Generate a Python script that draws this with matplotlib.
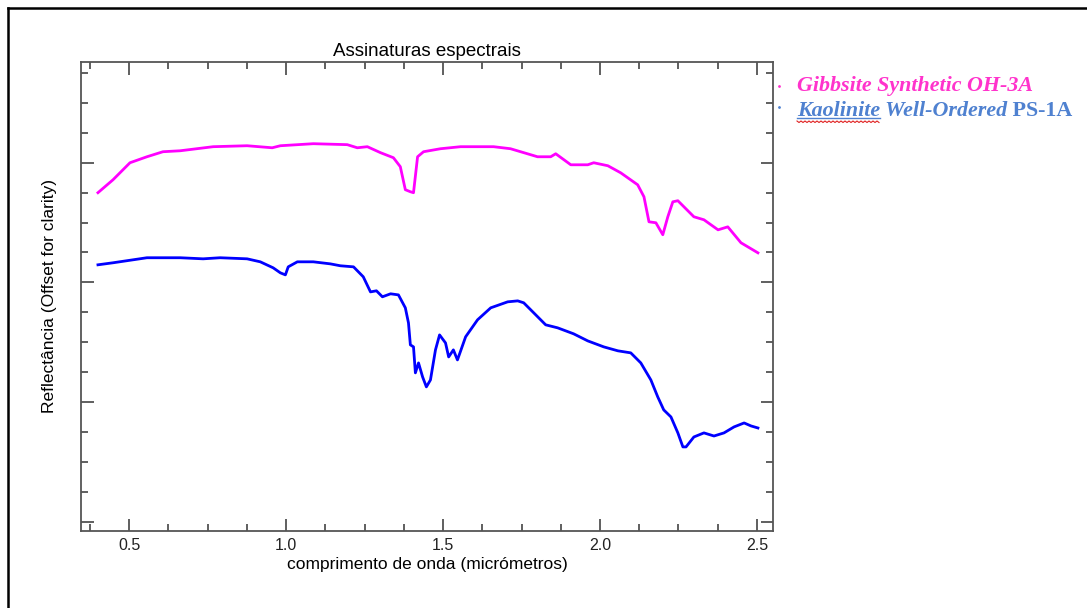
import numpy as np
import matplotlib
matplotlib.use('Agg')
from matplotlib import pyplot as plt
from matplotlib.lines import Line2D

# Gibbsite (magenta) - wavelength (um) / offset reflectance
gib_wl = [0.401, 0.449, 0.503, 0.557, 0.608, 0.663, 0.768, 0.876, 0.956, 0.982,
          1.087, 1.195, 1.227, 1.259, 1.301, 1.342, 1.364, 1.380, 1.396, 1.406,
          1.419, 1.438, 1.492, 1.556, 1.661, 1.715, 1.801, 1.843, 1.859, 1.907,
          1.961, 1.980, 2.025, 2.066, 2.120, 2.140, 2.156, 2.178, 2.200, 2.216,
          2.232, 2.248, 2.299, 2.331, 2.376, 2.407, 2.449, 2.503]
gib_refl = [2.749, 2.857, 2.999, 3.049, 3.091, 3.099, 3.133, 3.141, 3.124, 3.141,
            3.158, 3.150, 3.124, 3.133, 3.083, 3.041, 2.966, 2.774, 2.757, 2.749,
            3.049, 3.091, 3.116, 3.133, 3.133, 3.116, 3.049, 3.049, 3.074, 2.982,
            2.982, 2.999, 2.974, 2.915, 2.815, 2.715, 2.506, 2.498, 2.398, 2.548,
            2.673, 2.682, 2.548, 2.523, 2.439, 2.464, 2.331, 2.247]

# Kaolinite (blue)
kao_wl = [0.401, 0.449, 0.557, 0.663, 0.736, 0.790, 0.876, 0.918, 0.959, 0.982,
          0.998, 1.007, 1.036, 1.087, 1.141, 1.173, 1.215, 1.246, 1.269, 1.288,
          1.307, 1.333, 1.358, 1.380, 1.390, 1.396, 1.406, 1.412, 1.422, 1.435,
          1.447, 1.460, 1.476, 1.489, 1.508, 1.518, 1.533, 1.546, 1.572, 1.610,
          1.652, 1.706, 1.738, 1.757, 1.789, 1.827, 1.865, 1.916, 1.961, 2.012,
          2.057, 2.098, 2.130, 2.162, 2.184, 2.203, 2.226, 2.248, 2.264, 2.274,
          2.299, 2.331, 2.363, 2.395, 2.427, 2.459, 2.481, 2.503]
kao_refl = [2.147, 2.164, 2.206, 2.206, 2.197, 2.206, 2.197, 2.172, 2.122, 2.080,
            2.063, 2.130, 2.172, 2.172, 2.155, 2.139, 2.130, 2.047, 1.921, 1.930,
            1.880, 1.905, 1.896, 1.788, 1.662, 1.479, 1.462, 1.245, 1.328, 1.211,
            1.128, 1.186, 1.437, 1.562, 1.495, 1.378, 1.437, 1.353, 1.546, 1.688,
            1.788, 1.838, 1.846, 1.830, 1.746, 1.646, 1.621, 1.571, 1.512, 1.462,
            1.429, 1.412, 1.328, 1.186, 1.044, 0.936, 0.877, 0.744, 0.627, 0.627,
            0.710, 0.744, 0.718, 0.744, 0.794, 0.827, 0.802, 0.785]

x_ticks = [0.5, 1.0, 1.5, 2.0, 2.5]
x_ticklabels = ['0.5', '1.0', '1.5', '2.0', '2.5']

plt.rcParams['font.family'] = ['Liberation Sans', 'DejaVu Sans']

fig = plt.figure(figsize=(10.87, 6.08), dpi=100)
ax = fig.add_axes([81/1087, 1 - 531/608, 692/1087, 469/608])

ax.plot(gib_wl, gib_refl, color='#ff00ff', lw=2.0)
ax.plot(kao_wl, kao_refl, color='#0000ff', lw=2.0)

ax.set_xlim(0.347, 2.551)
ax.set_ylim(-0.075, 3.84)
ax.set_xticks(x_ticks)
ax.set_xticklabels(x_ticklabels)
ax.set_xticks(np.arange(0.375, 2.55, 0.125), minor=True)
ax.set_yticks([0, 1, 2, 3])
ax.set_yticks(np.arange(0, 3.84, 0.25), minor=True)
ax.set_yticklabels([])

ax.tick_params(which='both', direction='in', top=True, right=True,
               color='#444444', width=1.2, labelsize=11.5, pad=5,
               labelcolor='#222222')
ax.tick_params(which='major', length=9)
ax.tick_params(which='minor', length=5)
for s in ax.spines.values():
    s.set_color('#555555')
    s.set_linewidth(1.3)

ax.set_title('Assinaturas espectrais', fontsize=13.5, pad=4)
ax.set_xlabel('comprimento de onda (micrómetros)', fontsize=12.5, labelpad=3)
ax.set_ylabel('Reflectância (Offset for clarity)', fontsize=12.5, labelpad=12)

# outer frame (top and left edges)
fig.add_artist(Line2D([8/1087, 1.0], [1 - 8/608, 1 - 8/608], transform=fig.transFigure,
                      color='black', lw=1.8))
fig.add_artist(Line2D([8/1087, 8/1087], [0, 1 - 8/608], transform=fig.transFigure,
                      color='black', lw=1.8))

# legend text to the right of the plot
serif = ['Liberation Serif', 'DejaVu Serif']
fs = 15.8
fig.text(797/1087, 1 - 91/608, 'Gibbsite Synthetic OH-3A', color='#ff33cc', fontsize=fs,
         family=serif, style='italic', weight='bold', va='baseline')
t1 = fig.text(797/1087, 1 - 116/608, 'Kaolinite', color='#4f81d0', fontsize=fs,
              family=serif, style='italic', weight='bold', va='baseline')
t2 = ax.annotate(' Well-Ordered', xy=(1, 0), xycoords=t1, va='bottom', ha='left',
                 color='#4f81d0', fontsize=fs, family=serif, style='italic',
                 weight='bold', annotation_clip=False)
ax.annotate(' PS-1A', xy=(1, 0), xycoords=t2, va='bottom', ha='left',
            color='#4f81d0', fontsize=fs, family=serif, weight='bold',
            annotation_clip=False)
fig.add_artist(Line2D([779/1087], [1 - 86/608], transform=fig.transFigure,
                      marker='.', ms=2, color='#ff33cc', lw=0))
fig.add_artist(Line2D([779/1087], [1 - 107/608], transform=fig.transFigure,
                      marker='.', ms=2, color='#4f81d0', lw=0))

# underline + spellcheck squiggle under "Kaolinite"
fig.canvas.draw()
bb = t1.get_window_extent()
inv = fig.transFigure.inverted()
yb = bb.y0 + 3
p0 = inv.transform((bb.x0, yb))
p1 = inv.transform((bb.x1, yb))
fig.add_artist(Line2D([p0[0], p1[0]], [p0[1], p1[1]], transform=fig.transFigure,
                      color='#4f81d0', lw=1.0))
zx = np.arange(bb.x0, bb.x1, 2.0)
zy = yb - 3 + np.where(np.arange(len(zx)) % 2 == 0, 0, -1.5)
pts = inv.transform(np.column_stack([zx, zy]))
fig.add_artist(Line2D(pts[:, 0], pts[:, 1], transform=fig.transFigure,
                      color='#e02020', lw=0.8))

fig.savefig('out.png', dpi=100)
